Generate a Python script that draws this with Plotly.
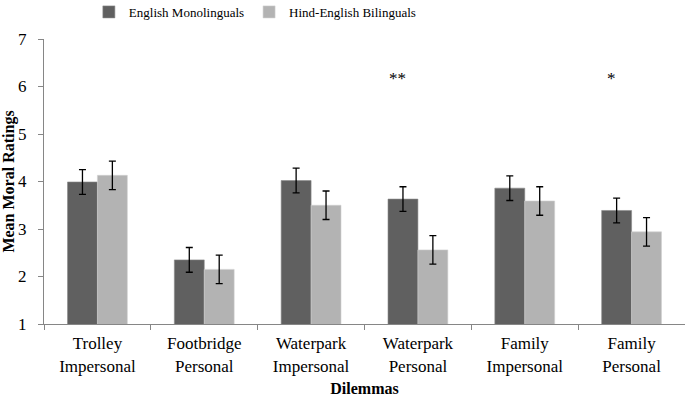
import plotly.graph_objects as go

categories = ["Trolley<br>Impersonal", "Footbridge<br>Personal", "Waterpark<br>Impersonal",
              "Waterpark<br>Personal", "Family<br>Impersonal", "Family<br>Personal"]
mono_values = [3.99, 2.35, 4.02, 3.63, 3.86, 3.39]
mono_err = [0.26, 0.26, 0.26, 0.26, 0.26, 0.26]
bi_values = [4.13, 2.15, 3.50, 2.56, 3.59, 2.94]
bi_err = [0.30, 0.30, 0.30, 0.30, 0.30, 0.30]
series_names = ["English Monolinguals", "Hind-English Bilinguals"]
sig_labels = [("Waterpark<br>Personal", "**"), ("Family<br>Personal", "*")]
sig_y = 6.17

FONT = "Liberation Serif"
fig = go.Figure()
fig.add_trace(go.Bar(
    x=categories, y=mono_values, name=series_names[0],
    marker=dict(color="#606060", line=dict(color="#8a8a8a", width=0.6)),
    error_y=dict(type="data", array=mono_err, color="black", thickness=1.3, width=3.5),
))
fig.add_trace(go.Bar(
    x=categories, y=bi_values, name=series_names[1],
    marker=dict(color="#b3b3b3", line=dict(color="#d0d0d0", width=0.6)),
    error_y=dict(type="data", array=bi_err, color="black", thickness=1.3, width=3.5),
))
for cat, txt in sig_labels:
    fig.add_annotation(x=cat, y=sig_y, text=txt, showarrow=False, xshift=-20,
                       font=dict(family=FONT, size=17, color="black"))

fig.update_layout(
    width=685, height=398,
    margin=dict(l=44, r=0, t=39, b=74, autoexpand=False),
    paper_bgcolor="white", plot_bgcolor="white",
    font=dict(family=FONT, size=16, color="black"),
    barmode="group", bargap=0.44, bargroupgap=0,
    showlegend=True,
    legend=dict(orientation="h", x=0.07, xanchor="left", yref="container", y=0.97,
                yanchor="middle", font=dict(family=FONT, size=13), itemwidth=30,
                tracegroupgap=0, bgcolor="rgba(0,0,0,0)"),
    xaxis=dict(
        type="category", tickson="boundaries", ticks="outside", ticklen=5,
        tickcolor="#868686", showline=True, linecolor="#868686", linewidth=1,
        showgrid=False, tickfont=dict(family=FONT, size=17), automargin=False,
        ticklabelstandoff=4,
        title=dict(text="<b>Dilemmas</b>", font=dict(family=FONT, size=16), standoff=8),
    ),
    yaxis=dict(
        range=[1, 7], dtick=1, ticks="outside", ticklen=5, tickcolor="#868686",
        showline=True, linecolor="#868686", linewidth=1, showgrid=False, zeroline=False,
        tickfont=dict(family=FONT, size=17), ticklabelstandoff=8, automargin=False,
        title=dict(text="<b>Mean Moral Ratings</b>", font=dict(family=FONT, size=16), standoff=0),
    ),
)
fig.write_html("out.html", config={"displayModeBar": False},
               post_script="document.body.style.margin='0';")
